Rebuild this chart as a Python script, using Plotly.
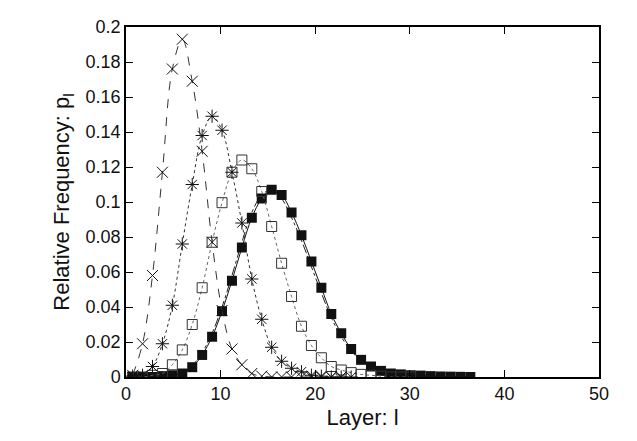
import plotly.graph_objects as go

step = 1.05
x0 = 0.7
cross = [0.001, 0.019, 0.058, 0.117, 0.176, 0.193, 0.169, 0.129, 0.077, 0.038, 0.016, 0.007, 0.002, 0.0005, 0, 0, 0, 0, 0, 0, 0, 0]
star = [0.0005, 0.001, 0.006, 0.019, 0.041, 0.076, 0.110, 0.138, 0.149, 0.141, 0.117, 0.088, 0.056, 0.033, 0.017, 0.009, 0.005, 0.003, 0.001, 0.0005, 0, 0, 0]
opensq = [0, 0, 0.001, 0.002, 0.007, 0.0155, 0.030, 0.051, 0.077, 0.0996, 0.117, 0.124, 0.119, 0.106, 0.086, 0.065, 0.046, 0.029, 0.018, 0.011, 0.006, 0.004, 0.0025, 0.0015, 0.001, 0.0005, 0, 0, 0]
closed = [0, 0, 0, 0.0005, 0.001, 0.002, 0.0056, 0.0126, 0.023, 0.0376, 0.055, 0.074, 0.091, 0.102, 0.107, 0.104, 0.094, 0.081, 0.066, 0.051, 0.036, 0.025, 0.016, 0.0098, 0.006, 0.0035, 0.002, 0.0015, 0.001, 0.0008, 0.0005, 0.0003, 0.0002, 0.0001, 0]
closed_b = [0, 0, 0, 0.0005, 0.0012, 0.0025, 0.0065, 0.014, 0.025, 0.040, 0.058, 0.077, 0.094, 0.104, 0.107, 0.102, 0.091, 0.078, 0.063, 0.048, 0.034, 0.023, 0.015, 0.009, 0.005, 0.003, 0.002, 0.0012, 0.0008, 0.0005, 0.0003, 0.0002, 0.0001, 0, 0]
ytick_vals = [0, 0.02, 0.04, 0.06, 0.08, 0.1, 0.12, 0.14, 0.16, 0.18, 0.2]
ytick_text = ['0', '0.02', '0.04', '0.06', '0.08', '0.1', '0.12', '0.14', '0.16', '0.18', '0.2']

def xs(n):
    return [x0 + step * i for i in range(n)]

fig = go.Figure()
fig.add_trace(go.Scatter(x=xs(len(closed_b)), y=closed_b, mode='lines',
    line=dict(color='#222', width=1, dash='dashdot', shape='spline')))
fig.add_trace(go.Scatter(x=xs(len(closed)), y=closed, mode='lines+markers',
    line=dict(color='#111', width=1, shape='spline'),
    marker=dict(symbol='square', size=10, color='#111')))
fig.add_trace(go.Scatter(x=xs(len(opensq)), y=opensq, mode='lines+markers',
    line=dict(color='#666', width=1, dash='dot', shape='spline'),
    marker=dict(symbol='square-open', size=10, color='#333', line=dict(width=1))))
fig.add_trace(go.Scatter(x=xs(len(star)), y=star, mode='lines+markers',
    line=dict(color='#333', width=1, dash='dot', shape='spline'),
    marker=dict(symbol='asterisk-open', size=11, color='#111', line=dict(width=1))))
fig.add_trace(go.Scatter(x=xs(len(cross)), y=cross, mode='lines+markers',
    line=dict(color='#333', width=1, dash='dash', shape='spline'),
    marker=dict(symbol='x-thin-open', size=11, color='#111', line=dict(width=1))))

ax = dict(showgrid=False, zeroline=False, showline=True, linecolor='black', linewidth=1.5,
          mirror='ticks', ticks='inside', ticklen=7, tickcolor='black')
fig.update_layout(
    width=637, height=441, showlegend=False,
    margin=dict(l=118, r=46, t=9, b=72),
    plot_bgcolor='white', paper_bgcolor='white',
    font=dict(family='Liberation Sans, Arial', size=18, color='#111'),
    xaxis=dict(range=[0, 50], dtick=10, title=dict(text='Layer: l', standoff=6), **ax),
    yaxis=dict(range=[0, 0.2], tickmode='array', tickvals=ytick_vals, ticktext=ytick_text,
               title=dict(text='Relative Frequency: p<sub>l</sub>', standoff=10), **ax),
)
fig.write_html('out.html')
